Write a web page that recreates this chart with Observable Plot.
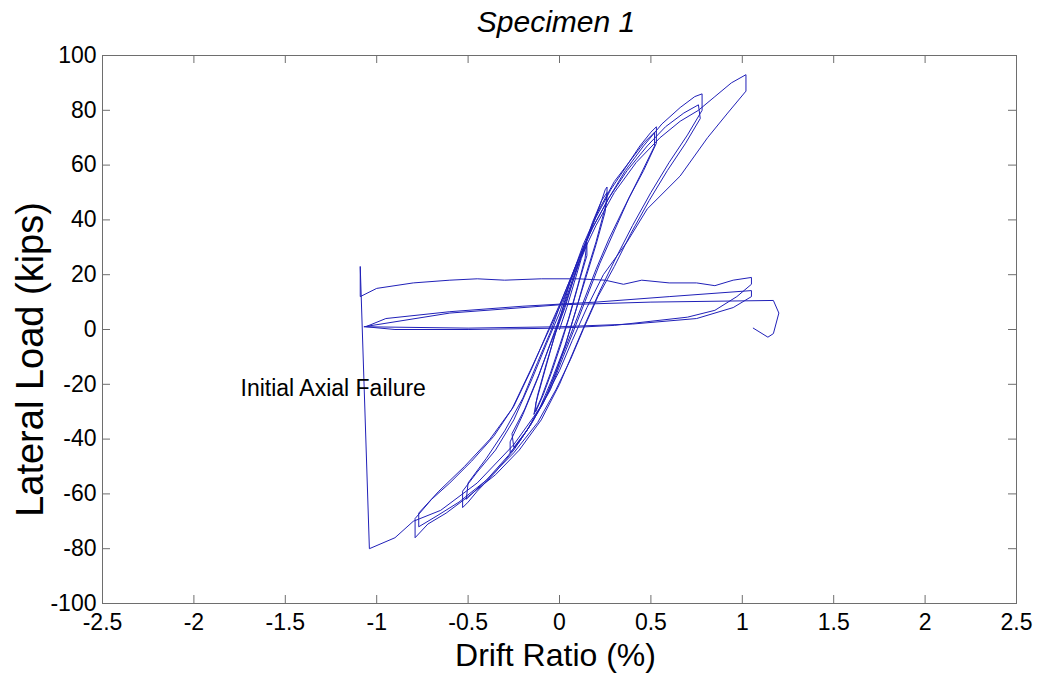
<!DOCTYPE html>
<html><head><meta charset="utf-8">
<script src="https://cdn.jsdelivr.net/npm/d3@7"></script>
<script src="https://cdn.jsdelivr.net/npm/@observablehq/plot@0.6"></script>
<style>
body{margin:0;background:#fff;}
#title{width:1037px;height:40px;box-sizing:border-box;padding-left:75px;padding-top:3px;text-align:center;font:italic 30px/37px "Liberation Sans",Arial,sans-serif;color:#000;}
</style></head><body>
<div id="title">Specimen 1</div>
<div id="chart"></div>
<script>
// Tick values
const xTicks = [-2.5,-2,-1.5,-1,-0.5,0,0.5,1,1.5,2,2.5];
const yTicks = [-100,-80,-60,-40,-20,0,20,40,60,80,100];
const xLabel = "Drift Ratio (%)";
const yLabel = "Lateral Load (kips)";
const annotations = [{label:"Initial Axial Failure", x:-1.745, y:-21.4}];

// Hysteresis path, [drift %, load kips], cycle by cycle
const cycleA = [[0,0],[0.04,8],[0.08,17],[0.12,26],[0.15,31],[0.15,27],[0.11,18],[0.06,6],[0.01,-5],[-0.04,-15],[-0.09,-24],[-0.13,-30],[-0.13,-27],[-0.08,-15],[-0.03,-3],[0.02,8],[0.07,18],[0.12,27],[0.15,32],[0.14,26],[0.1,16],[0.05,4],[0,-6],[-0.05,-16],[-0.1,-25],[-0.14,-31],[-0.12,-24],[-0.07,-12],[-0.02,-1]];
const cycleB = [[0.03,8],[0.08,19],[0.13,29],[0.18,39],[0.23,47],[0.25,51],[0.26,52],[0.26,47],[0.2,32],[0.14,19],[0.09,7],[0.04,-4],[-0.02,-16],[-0.09,-27],[-0.16,-35],[-0.22,-41],[-0.27,-45],[-0.27,-41],[-0.2,-31],[-0.12,-18],[-0.06,-7],[0,3],[0.06,15],[0.12,27],[0.18,38],[0.23,47],[0.26,50],[0.25,43],[0.2,31],[0.14,18],[0.08,5],[0.03,-6],[-0.04,-18],[-0.11,-29],[-0.18,-37],[-0.25,-43],[-0.26,-38],[-0.19,-29],[-0.11,-16],[-0.05,-5]];
const cycleC = [[0.01,6],[0.06,18],[0.13,30],[0.2,41],[0.28,51],[0.36,59],[0.44,67],[0.5,72],[0.53,74],[0.53,68],[0.46,58],[0.38,48],[0.3,36],[0.22,24],[0.15,12],[0.08,0],[0.02,-10],[-0.05,-22],[-0.15,-34],[-0.25,-44],[-0.35,-52],[-0.45,-59],[-0.5,-63],[-0.53,-65],[-0.53,-59],[-0.45,-52],[-0.35,-44],[-0.25,-33],[-0.15,-18],[-0.07,-5],[0,6],[0.06,18],[0.13,31],[0.21,43],[0.3,54],[0.38,61],[0.46,68],[0.52,72],[0.52,67],[0.44,56],[0.35,44],[0.27,33],[0.2,22],[0.13,10],[0.06,-2],[0,-12],[-0.07,-24],[-0.17,-36],[-0.28,-46],[-0.4,-55],[-0.48,-60],[-0.51,-62],[-0.5,-56],[-0.4,-47],[-0.3,-37],[-0.2,-25],[-0.12,-12],[-0.05,-1]];
const cycleD = [[0.02,12],[0.1,25],[0.18,37],[0.27,48],[0.36,58],[0.46,67],[0.56,75],[0.66,81],[0.74,85],[0.78,86],[0.78,80],[0.7,71],[0.6,61],[0.5,50],[0.4,38],[0.3,25],[0.22,14],[0.14,2],[0.07,-9],[0,-20],[-0.1,-33],[-0.22,-44],[-0.35,-53],[-0.5,-61],[-0.62,-67],[-0.72,-71],[-0.79,-76],[-0.79,-69],[-0.7,-62],[-0.6,-56],[-0.48,-48],[-0.36,-39],[-0.25,-28],[-0.15,-14],[-0.06,0],[0.02,12],[0.1,25],[0.18,37],[0.27,48],[0.37,58],[0.48,67],[0.58,74],[0.68,79],[0.76,82],[0.77,77],[0.69,68],[0.59,58],[0.49,47],[0.39,35],[0.3,23],[0.21,12],[0.13,0],[0.06,-11],[-0.02,-22],[-0.12,-34],[-0.25,-45],[-0.4,-55],[-0.55,-63],[-0.67,-68],[-0.77,-72],[-0.77,-67],[-0.66,-59],[-0.52,-50],[-0.38,-40],[-0.26,-29],[-0.16,-15],[-0.07,-2]];
const cycleE = [[0.02,11],[0.1,24],[0.2,38],[0.3,50],[0.42,61],[0.55,70],[0.66,76],[0.76,80],[0.85,85],[0.94,90],[1.02,93],[1.02,87],[0.92,79],[0.81,70],[0.66,56],[0.48,44],[0.37,32],[0.24,20],[0.15,8],[0.07,-4],[0,-15],[-0.1,-28],[-0.25,-42],[-0.45,-56],[-0.65,-66],[-0.8,-70],[-0.9,-76],[-1.04,-80]];
const postFailure = [[-1.09,23],[-1.09,12],[-1.0,15],[-0.8,17],[-0.6,18],[-0.45,18.5],[-0.3,18],[-0.1,18.5],[0.1,18.5],[0.25,18],[0.35,16.5],[0.45,18],[0.6,17],[0.75,17],[0.85,16],[0.95,18],[1.05,19],[1.05,16.5],[0.97,12],[0.85,7],[0.7,4.5],[0.5,3],[0.3,1.5],[0,0.5],[-0.5,0],[-0.9,0],[-1.06,1],[-0.95,4],[-0.6,6.5],[-0.2,8.5],[0.2,10],[0.6,12],[1.05,14.2],[1.05,12],[0.95,8],[0.75,4],[0.4,2],[0,1],[-0.5,0.5],[-1.07,1],[-0.6,6],[0,9],[0.5,10],[1.17,10.6],[1.2,6],[1.17,-1.5],[1.14,-2.8],[1.06,0.5]];

const path = [...cycleA, ...cycleB, ...cycleC, ...cycleD, ...cycleE, ...postFailure].map(([x,y]) => ({x, y}));

const frameColor = "#6e6e6e";
const font = "'Liberation Sans', Arial, sans-serif";
const fmt = d => String(d);

const chart = Plot.plot({
  width: 1037,
  height: 633,
  marginLeft: 102,
  marginRight: 21,
  marginTop: 15,
  marginBottom: 70,
  x: {domain: [-2.5, 2.5]},
  y: {domain: [-100, 100]},
  style: {fontFamily: font, background: "#fff", color: "#000"},
  marks: [
    Plot.frame({stroke: frameColor}),
    Plot.tickX(xTicks, {x: d => d, insetTop: 540, stroke: frameColor}),
    Plot.tickX(xTicks, {x: d => d, insetBottom: 540, stroke: frameColor}),
    Plot.tickY(yTicks, {y: d => d, insetRight: 906, stroke: frameColor}),
    Plot.tickY(yTicks, {y: d => d, insetLeft: 906, stroke: frameColor}),
    Plot.line(path, {x: "x", y: "y", stroke: "#2020b8", strokeWidth: 1, strokeLinejoin: "miter"}),
    Plot.axisX(xTicks, {tickSize: 0, tickPadding: 10, tickFormat: fmt, fontSize: 23, fontFamily: font, label: null, fill: "#000"}),
    Plot.axisY(yTicks, {tickSize: 0, tickPadding: 6, tickFormat: fmt, fontSize: 23, fontFamily: font, label: null, fill: "#000"}),
    Plot.text([xLabel], {text: d => d, frameAnchor: "bottom", lineAnchor: "middle", textAnchor: "middle", dx: -4, dy: 52, fontSize: 32, fontFamily: font, fill: "#000"}),
    Plot.text([yLabel], {text: d => d, frameAnchor: "left", lineAnchor: "middle", textAnchor: "middle", rotate: -90, dx: -72, dy: 30, fontSize: 38, fontFamily: font, fill: "#000"}),
    Plot.text(annotations, {x: "x", y: "y", text: "label", textAnchor: "start", fontSize: 23, fontFamily: font, fill: "#000"})
  ]
});
document.getElementById("chart").appendChild(chart);
</script></body></html>
